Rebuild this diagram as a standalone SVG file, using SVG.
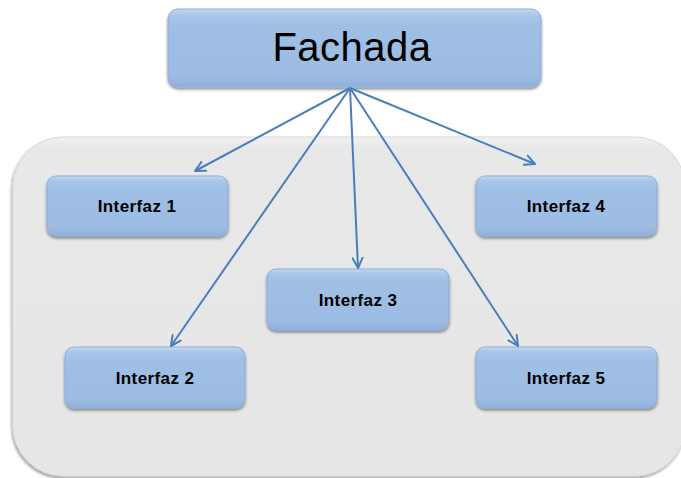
<svg xmlns="http://www.w3.org/2000/svg" width="681" height="478" viewBox="0 0 681 478">
  <defs>
    <linearGradient id="boxFill" x1="0" y1="0" x2="0" y2="1">
      <stop offset="0" stop-color="#c4d9f1"/>
      <stop offset="0.08" stop-color="#a9c6e8"/>
      <stop offset="0.2" stop-color="#9fbfe5"/>
      <stop offset="0.85" stop-color="#9cbce3"/>
      <stop offset="1" stop-color="#8fb0da"/>
    </linearGradient>
    <linearGradient id="panelFill" x1="0" y1="0" x2="0" y2="1">
      <stop offset="0" stop-color="#f2f2f2"/>
      <stop offset="0.03" stop-color="#e8e8e8"/>
      <stop offset="1" stop-color="#e6e6e6"/>
    </linearGradient>
    <filter id="shadow" x="-10%" y="-10%" width="120%" height="130%">
      <feGaussianBlur in="SourceAlpha" stdDeviation="1.5"/>
      <feOffset dx="0" dy="2" result="b"/>
      <feComponentTransfer><feFuncA type="linear" slope="0.45"/></feComponentTransfer>
      <feMerge><feMergeNode/><feMergeNode in="SourceGraphic"/></feMerge>
    </filter>
    <filter id="panelShadow" x="-5%" y="-5%" width="110%" height="110%">
      <feGaussianBlur in="SourceAlpha" stdDeviation="1.5"/>
      <feOffset dx="-1" dy="2" result="b"/>
      <feComponentTransfer><feFuncA type="linear" slope="0.4"/></feComponentTransfer>
      <feMerge><feMergeNode/><feMergeNode in="SourceGraphic"/></feMerge>
    </filter>
    <marker id="arrow" viewBox="0 0 12 12" refX="11" refY="6" markerWidth="12" markerHeight="12" markerUnits="userSpaceOnUse" orient="auto">
      <path d="M1,1 L11,6 L1,11" fill="none" stroke="#4a7ebb" stroke-width="2" stroke-linecap="round" stroke-linejoin="round"/>
    </marker>
  </defs>
  <style>
    .box { fill: url(#boxFill); stroke: #8eaedb; stroke-width: 1; filter: url(#shadow); }
    .lbl { font-family: "Liberation Sans", Arial, sans-serif; font-weight: bold; font-size: 17px; letter-spacing: 0.4px; fill: #000; text-anchor: middle; }
    .title { font-family: "Liberation Sans", Arial, sans-serif; font-size: 40px; letter-spacing: 0.5px; fill: #000; text-anchor: middle; }
    .conn { fill: none; stroke: #4a7ebb; stroke-width: 2; marker-end: url(#arrow); }
  </style>

  <rect width="681" height="478" fill="#ffffff"/>

  <!-- grey container panel -->
  <rect id="panel" x="13" y="137" width="672" height="339" rx="50" ry="50" fill="url(#panelFill)" stroke="#d9d9d9" stroke-width="1" filter="url(#panelShadow)"/>

  <g id="fachada">
    <rect class="box" x="168" y="9" width="373" height="78" rx="10" ry="10"/>
    <text class="title" x="352" y="61">Fachada</text>
  </g>

  <g id="interfaz1">
    <rect class="box" x="47" y="176" width="181" height="60" rx="9" ry="9"/>
    <text class="lbl" x="137" y="212">Interfaz 1</text>
  </g>

  <g id="interfaz2">
    <rect class="box" x="65" y="347" width="180" height="61" rx="9" ry="9"/>
    <text class="lbl" x="155" y="384">Interfaz 2</text>
  </g>

  <g id="interfaz3">
    <rect class="box" x="267" y="269" width="182" height="61" rx="9" ry="9"/>
    <text class="lbl" x="358" y="306">Interfaz 3</text>
  </g>

  <g id="interfaz4">
    <rect class="box" x="476" y="176" width="181" height="60" rx="9" ry="9"/>
    <text class="lbl" x="566" y="212">Interfaz 4</text>
  </g>

  <g id="interfaz5">
    <rect class="box" x="476" y="347" width="181" height="61" rx="9" ry="9"/>
    <text class="lbl" x="566" y="384">Interfaz 5</text>
  </g>

  <g id="connectors">
    <line class="conn" x1="350" y1="88" x2="195" y2="171"/>
    <line class="conn" x1="350" y1="88" x2="171" y2="346"/>
    <line class="conn" x1="350" y1="88" x2="358" y2="268"/>
    <line class="conn" x1="350" y1="88" x2="535" y2="164"/>
    <line class="conn" x1="350" y1="88" x2="518" y2="346"/>
  </g>
</svg>
